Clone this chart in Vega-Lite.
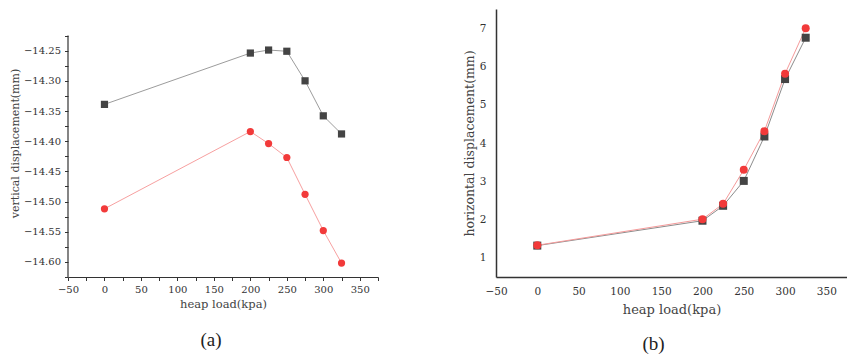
{
  "$schema": "https://vega.github.io/schema/vega-lite/v6.json",
  "background": "white",
  "padding": {"left": 9, "top": 9, "right": 0, "bottom": 0},
  "autosize": {"type": "pad"},
  "config": {
    "view": {"stroke": null},
    "font": "DejaVu Serif",
    "axis": {
      "labelFont": "DejaVu Serif",
      "titleFont": "DejaVu Serif",
      "titleFontWeight": "normal",
      "labelColor": "#333",
      "titleColor": "#444",
      "domainColor": "#333",
      "tickColor": "#333",
      "grid": false,
      "labelFlush": false,
      "labelOverlap": false
    },
    "legend": {"labelFont": "DejaVu Serif", "labelColor": "#333"},
    "title": {"font": "Liberation Serif", "fontWeight": "normal", "color": "#222"}
  },
  "resolve": {
    "scale": {"x": "independent", "y": "independent", "fill": "independent", "stroke": "independent", "shape": "independent"}
  },
  "bounds": "flush",
  "spacing": 118,
  "hconcat": [
    {
      "width": 310,
      "height": 268,
      "title": {"text": "(a)", "orient": "bottom", "fontSize": 19, "offset": 21, "dx": -12},
      "data": {
        "values": [
          {"load": 0, "pile": "Back pile", "v": -14.339},
          {"load": 200, "pile": "Back pile", "v": -14.254},
          {"load": 225, "pile": "Back pile", "v": -14.249},
          {"load": 250, "pile": "Back pile", "v": -14.251},
          {"load": 275, "pile": "Back pile", "v": -14.300},
          {"load": 300, "pile": "Back pile", "v": -14.358},
          {"load": 325, "pile": "Back pile", "v": -14.388},
          {"load": 0, "pile": "Front pile", "v": -14.512},
          {"load": 200, "pile": "Front pile", "v": -14.384},
          {"load": 225, "pile": "Front pile", "v": -14.404},
          {"load": 250, "pile": "Front pile", "v": -14.427},
          {"load": 275, "pile": "Front pile", "v": -14.488},
          {"load": 300, "pile": "Front pile", "v": -14.548},
          {"load": 325, "pile": "Front pile", "v": -14.602}
        ]
      },
      "encoding": {
        "x": {
          "field": "load", "type": "quantitative",
          "scale": {"domain": [-50, 375], "nice": false, "zero": false},
          "axis": {
            "title": "heap load(kpa)",
            "values": [-50, -25, 0, 25, 50, 75, 100, 125, 150, 175, 200, 225, 250, 275, 300, 325, 350, 375],
            "labelExpr": "datum.value % 50 === 0 ? format(datum.value, 'd') : ''",
            "tickSize": 3.5,
            "labelFontSize": 10,
            "labelPadding": 4,
            "titleFontSize": 11.5,
            "titlePadding": 4,
            "domainWidth": 1.2
          }
        },
        "y": {
          "field": "v", "type": "quantitative",
          "scale": {"domain": [-14.625, -14.181], "nice": false, "zero": false},
          "axis": {
            "title": "vertical displacement(mm)",
            "domain": false,
            "values": [-14.625, -14.6, -14.575, -14.55, -14.525, -14.5, -14.475, -14.45, -14.425, -14.4, -14.375, -14.35, -14.325, -14.3, -14.275, -14.25, -14.225],
            "labelExpr": "abs(datum.value * 20 - round(datum.value * 20)) < 0.001 ? format(datum.value, '.2f') : ''",
            "tickSize": 3.5,
            "labelFontSize": 10,
            "labelPadding": 4,
            "titleFontSize": 11,
            "titlePadding": 3
          }
        }
      },
      "layer": [
        {
          "data": {"values": [{"load": -50, "v": -14.625, "v2": -14.225}]},
          "mark": {"type": "rule", "color": "#333", "strokeWidth": 1.2},
          "encoding": {
            "y2": {"field": "v2"}
          }
        },
        {
          "mark": {"type": "line", "strokeWidth": 1},
          "encoding": {
            "stroke": {
              "field": "pile", "type": "nominal",
              "scale": {"domain": ["Back pile", "Front pile"], "range": ["#9c9c9c", "#f7a0a0"]},
              "legend": null
            }
          }
        },
        {
          "mark": {"type": "point", "filled": true, "opacity": 1, "size": 52},
          "encoding": {
            "fill": {
              "field": "pile", "type": "nominal",
              "scale": {"domain": ["Back pile", "Front pile"], "range": ["#444444", "#f23a3a"]},
              "legend": {
                "title": null,
                "orient": "none",
                "legendX": 255.5,
                "legendY": 0.3,
                "strokeColor": "#888",
                "fillColor": "white",
                "padding": 2,
                "rowPadding": 2,
                "symbolSize": 52,
                "symbolOffset": 8,
                "labelOffset": 17,
                "labelFontSize": 12.5
              }
            },
            "shape": {
              "field": "pile", "type": "nominal",
              "scale": {"domain": ["Back pile", "Front pile"], "range": ["square", "circle"]}
            }
          }
        }
      ]
    },
    {
      "width": 351,
      "height": 268,
      "title": {"text": "(b)", "orient": "bottom", "fontSize": 19, "offset": 18, "dx": -18},
      "data": {
        "values": [
          {"load": 0, "pile": "Back pile", "h": 1.32},
          {"load": 200, "pile": "Back pile", "h": 1.97},
          {"load": 225, "pile": "Back pile", "h": 2.36},
          {"load": 250, "pile": "Back pile", "h": 3.01},
          {"load": 275, "pile": "Back pile", "h": 4.17},
          {"load": 300, "pile": "Back pile", "h": 5.67},
          {"load": 325, "pile": "Back pile", "h": 6.75},
          {"load": 0, "pile": "Front pile", "h": 1.33},
          {"load": 200, "pile": "Front pile", "h": 2.01},
          {"load": 225, "pile": "Front pile", "h": 2.41},
          {"load": 250, "pile": "Front pile", "h": 3.30},
          {"load": 275, "pile": "Front pile", "h": 4.31},
          {"load": 300, "pile": "Front pile", "h": 5.81},
          {"load": 325, "pile": "Front pile", "h": 7.00}
        ]
      },
      "encoding": {
        "x": {
          "field": "load", "type": "quantitative",
          "scale": {"domain": [-50, 375], "nice": false, "zero": false},
          "axis": {
            "title": "heap load(kpa)",
            "values": [-50, 0, 50, 100, 150, 200, 250, 300, 350],
            "ticks": false,
            "labelFontSize": 10.5,
            "labelPadding": 9,
            "titleFontSize": 13,
            "titlePadding": 7,
            "domainWidth": 1.5
          }
        },
        "y": {
          "field": "h", "type": "quantitative",
          "scale": {"domain": [0.5, 7.5], "nice": false, "zero": false},
          "axis": {
            "title": "horizontal displacement(mm)",
            "values": [1, 2, 3, 4, 5, 6, 7],
            "ticks": false,
            "labelFontSize": 10.5,
            "labelPadding": 10,
            "titleFontSize": 12.5,
            "titlePadding": 3,
            "domainWidth": 1.5
          }
        }
      },
      "layer": [
        {
          "mark": {"type": "line", "strokeWidth": 1},
          "encoding": {
            "stroke": {
              "field": "pile", "type": "nominal",
              "scale": {"domain": ["Back pile", "Front pile"], "range": ["#8c8c8c", "#f59a9a"]},
              "legend": null
            }
          }
        },
        {
          "mark": {"type": "point", "filled": true, "opacity": 1, "size": 64},
          "encoding": {
            "fill": {
              "field": "pile", "type": "nominal",
              "scale": {"domain": ["Back pile", "Front pile"], "range": ["#444444", "#f23a3a"]},
              "legend": {
                "title": null,
                "orient": "none",
                "legendX": 135,
                "legendY": 4.3,
                "strokeColor": "#888",
                "fillColor": "white",
                "padding": 3,
                "rowPadding": 2,
                "symbolSize": 64,
                "symbolOffset": 10,
                "labelOffset": 19,
                "labelFontSize": 14
              }
            },
            "shape": {
              "field": "pile", "type": "nominal",
              "scale": {"domain": ["Back pile", "Front pile"], "range": ["square", "circle"]}
            }
          }
        }
      ]
    }
  ]
}
